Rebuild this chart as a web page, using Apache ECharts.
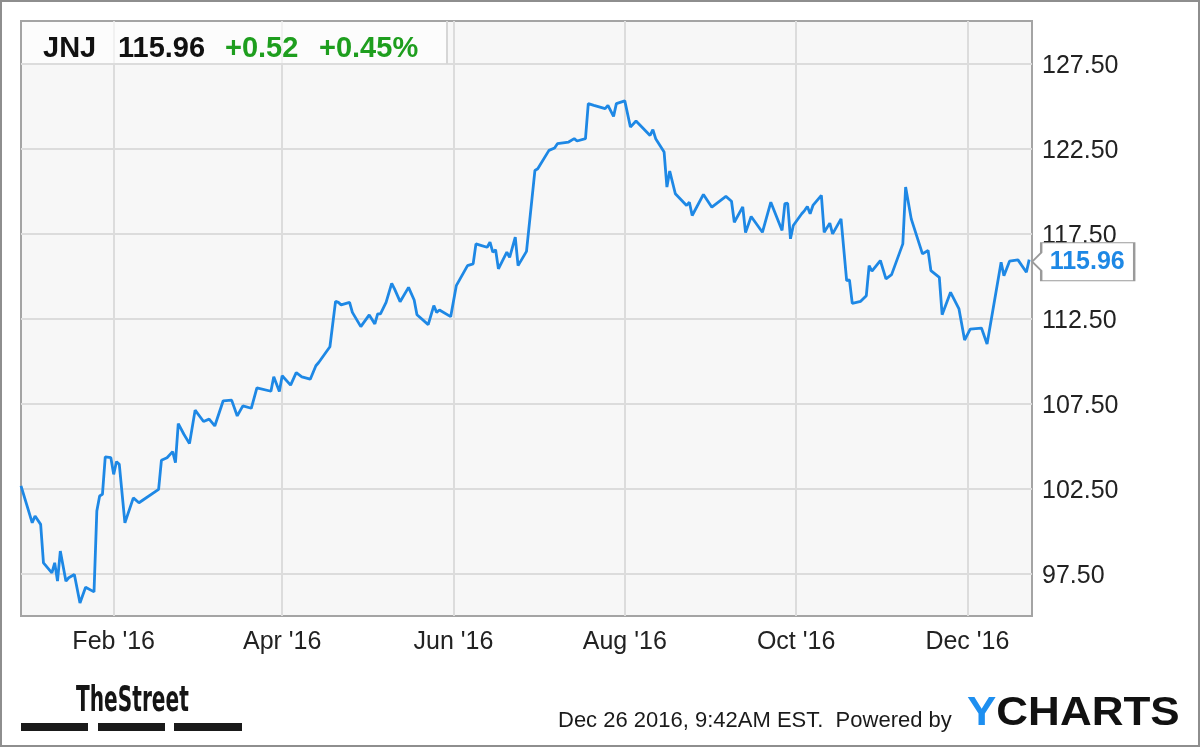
<!DOCTYPE html>
<html>
<head>
<meta charset="utf-8">
<script src="https://cdn.jsdelivr.net/npm/echarts@6/dist/echarts.min.js"></script>
<style>
html,body{margin:0;padding:0;background:#fff;}
#c{width:1200px;height:747px;}
</style>
</head>
<body>
<div id="c"></div>
<script>
// ---- data ----
const ticker = 'JNJ';
const changeAbs = '+0.52';
const changePct = '+0.45%';
const footerStamp = 'Dec 26 2016, 9:42AM EST.  Powered by';

const dates = [
 '2015-12-30','2016-01-03','2016-01-04','2016-01-06','2016-01-07','2016-01-10','2016-01-11','2016-01-12','2016-01-13','2016-01-15',
 '2016-01-16','2016-01-18','2016-01-20','2016-01-22','2016-01-25','2016-01-26','2016-01-27','2016-01-28','2016-01-29','2016-01-31',
 '2016-02-01','2016-02-02','2016-02-03','2016-02-05','2016-02-08','2016-02-10','2016-02-17','2016-02-18','2016-02-20','2016-02-22',
 '2016-02-23','2016-02-24','2016-02-26','2016-02-28','2016-03-01','2016-03-04','2016-03-06','2016-03-08','2016-03-11','2016-03-14',
 '2016-03-16','2016-03-18','2016-03-21','2016-03-23','2016-03-28','2016-03-29','2016-03-31','2016-04-01','2016-04-04','2016-04-06',
 '2016-04-08','2016-04-11','2016-04-13','2016-04-14','2016-04-18','2016-04-20','2016-04-21','2016-04-22','2016-04-25','2016-04-26',
 '2016-04-29','2016-05-02','2016-05-04','2016-05-05','2016-05-06','2016-05-08','2016-05-10','2016-05-11','2016-05-13','2016-05-16',
 '2016-05-18','2016-05-19','2016-05-23','2016-05-25','2016-05-26','2016-05-27','2016-05-31','2016-06-02','2016-06-06','2016-06-08',
 '2016-06-09','2016-06-11','2016-06-13','2016-06-14','2016-06-15','2016-06-16','2016-06-17','2016-06-20','2016-06-21','2016-06-23',
 '2016-06-24','2016-06-27','2016-06-30','2016-07-01','2016-07-05','2016-07-07','2016-07-08','2016-07-12','2016-07-14','2016-07-15',
 '2016-07-18','2016-07-19','2016-07-21','2016-07-25','2016-07-26','2016-07-28','2016-07-29','2016-08-01','2016-08-03','2016-08-05',
 '2016-08-10','2016-08-11','2016-08-12','2016-08-15','2016-08-16','2016-08-17','2016-08-19','2016-08-23','2016-08-24','2016-08-25',
 '2016-08-29','2016-09-01','2016-09-06','2016-09-08','2016-09-09','2016-09-12','2016-09-13','2016-09-15','2016-09-19','2016-09-22',
 '2016-09-26','2016-09-27','2016-09-28','2016-09-29','2016-09-30','2016-10-03','2016-10-04','2016-10-05','2016-10-06','2016-10-07',
 '2016-10-10','2016-10-11','2016-10-13','2016-10-14','2016-10-17','2016-10-19','2016-10-20','2016-10-21','2016-10-24','2016-10-26',
 '2016-10-27','2016-10-28','2016-10-31','2016-11-02','2016-11-04','2016-11-08','2016-11-09','2016-11-11','2016-11-15','2016-11-17',
 '2016-11-18','2016-11-21','2016-11-22','2016-11-25','2016-11-28','2016-11-30','2016-12-02','2016-12-06','2016-12-08','2016-12-13',
 '2016-12-14','2016-12-16','2016-12-19','2016-12-22','2016-12-23'
];

const prices = [
 102.65,100.48,100.88,100.39,98.13,97.54,98.13,97.05,98.82,97.05,
 97.25,97.44,95.77,96.69,96.42,101.17,102.06,102.16,104.36,104.31,
 103.33,104.08,103.92,100.48,101.95,101.66,102.45,104.16,104.31,104.67,
 104.02,106.32,105.69,105.14,107.11,106.44,106.58,106.18,107.66,107.70,
 106.77,107.36,107.22,108.42,108.22,109.07,108.20,109.13,108.58,109.32,
 109.07,108.93,109.72,109.91,110.84,113.51,113.45,113.30,113.45,112.86,
 112.02,112.71,112.18,112.77,112.77,113.45,114.57,114.24,113.49,114.33,
 113.59,112.72,112.14,113.26,112.86,113.00,112.61,114.43,115.61,115.71,
 116.89,116.79,116.69,116.99,116.40,116.54,115.42,116.40,116.10,117.28,
 115.61,116.45,121.21,121.31,122.39,122.53,122.78,122.88,123.08,122.94,
 123.08,125.14,125.04,124.85,125.04,124.39,125.14,125.30,123.76,124.12,
 123.27,123.61,123.08,122.29,120.23,121.17,119.84,119.15,119.34,118.56,
 119.80,119.05,119.68,119.40,118.16,119.07,117.55,118.50,117.57,119.34,
 117.68,119.25,119.28,117.19,117.97,118.66,118.85,119.09,118.66,119.15,
 119.74,117.57,118.11,117.48,118.36,114.73,114.77,113.39,113.51,113.84,
 115.61,115.28,115.91,114.83,115.08,116.89,120.23,118.36,116.30,116.50,
 115.32,114.92,112.72,114.04,113.06,111.23,111.88,111.94,111.00,115.81,
 115.02,115.87,115.95,115.22,115.96
];

const xTickDates = ['2016-02-01','2016-04-01','2016-06-01','2016-08-01','2016-10-01','2016-12-01'];
const xTickLabels = ["Feb '16","Apr '16","Jun '16","Aug '16","Oct '16","Dec '16"];
const yTicks = [97.5,102.5,107.5,112.5,117.5,122.5,127.5];
const yTickLabels = ['97.50','102.50','107.50','112.50','117.50','122.50','127.50'];
const xRange = ['2015-12-30','2016-12-24'];
const yRange = [95,130];

// ---- helpers ----
function toTs(s){ const p = s.split('-').map(Number); return Date.UTC(p[0], p[1]-1, p[2]); }
const xTickTs = xTickDates.map(toTs);
const seriesData = dates.map((d,i)=>[toTs(d), prices[i]]);
const lastPoint = seriesData[seriesData.length-1];
const lastPriceText = prices[prices.length-1].toFixed(2);

const FONT = '"Liberation Sans", Arial, Helvetica, sans-serif';
const BLUE = '#1e88e5';
const GREEN = '#1e9e1e';

const chart = echarts.init(document.getElementById('c'), null, {renderer:'canvas'});
chart.setOption({
  animation: false,
  backgroundColor: '#ffffff',
  textStyle: {fontFamily: FONT},
  grid: {
    left: 21, top: 21, right: 168, bottom: 131,
    show: true, backgroundColor: '#f7f7f7', borderColor: '#a4a4a4', borderWidth: 2
  },
  xAxis: {
    type: 'value',
    min: toTs(xRange[0]), max: toTs(xRange[1]),
    axisLine: {show: false},
    axisTick: {show: false, customValues: xTickTs},
    axisLabel: {
      customValues: xTickTs,
      fontFamily: FONT, fontSize: 25, color: '#222', margin: 14,
      formatter: function(v){ const i = xTickTs.indexOf(v); return i >= 0 ? xTickLabels[i] : ''; }
    },
    splitLine: {show: true, lineStyle: {color: '#dcdcdc', width: 2}}
  },
  yAxis: {
    type: 'value', position: 'right',
    min: yRange[0], max: yRange[1],
    axisLine: {show: false},
    axisTick: {show: false, customValues: yTicks},
    axisLabel: {
      customValues: yTicks,
      fontFamily: FONT, fontSize: 25, color: '#222', margin: 10,
      formatter: function(v){ const i = yTicks.indexOf(v); return '{a|' + (i >= 0 ? yTickLabels[i] : v.toFixed(2)) + '}'; },
      rich: {a: {fontFamily: FONT, fontSize: 25, color: '#222', padding: [6, 0, 0, 0]}}
    },
    splitLine: {show: true, lineStyle: {color: '#dcdcdc', width: 2}}
  },
  series: [{
    type: 'line',
    data: seriesData,
    showSymbol: false,
    symbol: 'none',
    lineStyle: {color: BLUE, width: 2.8},
    z: 5,
    markPoint: {
      z: 10,
      data: [{coord: lastPoint, value: lastPriceText}],
      symbol: 'path://M9,0 L102,0 L102,38 L9,38 L9,28 L0,19 L9,10 Z',
      symbolSize: [102, 38],
      symbolOffset: [54, 2],
      itemStyle: {color: '#ffffff', borderColor: '#9a9a9a', borderWidth: 1.5},
      label: {
        show: true, position: 'inside', offset: [4, 0],
        formatter: lastPriceText,
        color: BLUE, fontWeight: 'bold', fontSize: 25, fontFamily: FONT
      }
    }
  }],
  graphic: [
    {type: 'rect', z: 50, shape: {x: 22, y: 22, width: 424, height: 41},
      style: {fill: 'rgba(255,255,255,0.6)'}},
    {type: 'line', z: 50, shape: {x1: 447, y1: 21, x2: 447, y2: 64},
      style: {stroke: '#d6d6d6', lineWidth: 2}},
    {type: 'text', z: 60, x: 43, y: 49, style: {text: ticker, font: 'bold 29px ' + FONT, fill: '#111', verticalAlign: 'middle'}},
    {type: 'text', z: 60, x: 118, y: 49, style: {text: lastPriceText, font: 'bold 29px ' + FONT, fill: '#111', verticalAlign: 'middle'}},
    {type: 'text', z: 60, x: 225, y: 49, style: {text: changeAbs, font: 'bold 29px ' + FONT, fill: GREEN, verticalAlign: 'middle'}},
    {type: 'text', z: 60, x: 319, y: 49, style: {text: changePct, font: 'bold 29px ' + FONT, fill: GREEN, verticalAlign: 'middle'}},
    {type: 'text', z: 60, x: 76, y: 702, scaleX: 0.64,
      style: {text: 'TheStreet', font: 'bold 35px "Liberation Sans Narrow", "DejaVu Sans Condensed", ' + FONT, fill: '#151515', verticalAlign: 'middle'}},
    {type: 'rect', z: 60, shape: {x: 21, y: 723, width: 67, height: 8}, style: {fill: '#1a1a1a'}},
    {type: 'rect', z: 60, shape: {x: 98, y: 723, width: 67, height: 8}, style: {fill: '#1a1a1a'}},
    {type: 'rect', z: 60, shape: {x: 174, y: 723, width: 68, height: 8}, style: {fill: '#1a1a1a'}},
    {type: 'text', z: 60, x: 558, y: 721,
      style: {text: footerStamp, font: '22px ' + FONT, fill: '#1a1a1a', verticalAlign: 'middle'}},
    {type: 'text', z: 60, x: 967, y: 714, scaleX: 1.1,
      style: {text: '{b|Y}{k|CHARTS}', verticalAlign: 'middle',
        rich: {b: {fill: '#1e8ff0', fontWeight: 'bold', fontSize: 40, fontFamily: FONT},
               k: {fill: '#111', fontWeight: 'bold', fontSize: 40, fontFamily: FONT}}}},
    {type: 'rect', z: 70, shape: {x: 1, y: 1, width: 1198, height: 745},
      style: {fill: 'none', stroke: '#8e8e8e', lineWidth: 2}}
  ]
});
</script>
</body>
</html>
